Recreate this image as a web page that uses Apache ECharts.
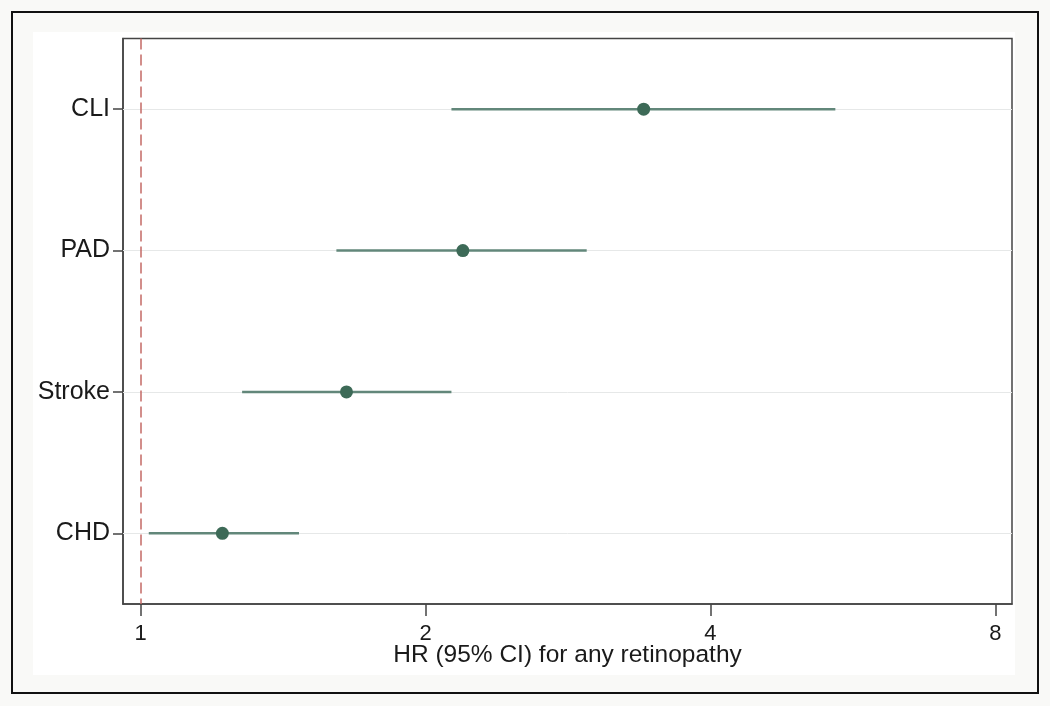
<!DOCTYPE html>
<html>
<head>
<meta charset="utf-8">
<script src="https://cdn.jsdelivr.net/npm/echarts@6/dist/echarts.min.js"></script>
<style>
  html, body { margin: 0; padding: 0; background: #f9f9f7; }
  #chart { width: 1050px; height: 706px; }
</style>
</head>
<body>
<div id="chart"></div>
<script>
// Data (top to bottom)
var categories = ['CLI', 'PAD', 'Stroke', 'CHD'];
var hr = [3.40, 2.19, 1.65, 1.22];
var ciLow = [2.13, 1.61, 1.28, 1.02];
var ciHigh = [5.42, 2.96, 2.13, 1.47];
var xTicks = [1, 2, 4, 8];
var refValue = 1;
var axisTitle = 'HR (95% CI) for any retinopathy';

var FONT = '"Liberation Sans", Arial, Helvetica, sans-serif';

var chart = echarts.init(document.getElementById('chart'), null, { renderer: 'canvas' });

var ciData = categories.map(function (c, i) { return [ciLow[i], c, ciHigh[i]]; });
var pointData = categories.map(function (c, i) { return [hr[i], c]; });

var gridLineData = categories.map(function (c) {
  return { yAxis: c, lineStyle: { color: '#e6e8e8', width: 1, type: 'solid' } };
});
gridLineData.push({ xAxis: refValue, lineStyle: { color: '#c46a66', width: 1.5, type: [11, 5] } });

var option = {
  backgroundColor: '#f9f9f7',
  animation: false,
  graphic: [
    { type: 'rect', z: -10, shape: { x: 33, y: 32, width: 982, height: 643 }, style: { fill: '#ffffff' }, silent: true },
    { type: 'rect', z: -9, shape: { x: 12, y: 12, width: 1026, height: 681 }, style: { fill: 'none', stroke: '#111', lineWidth: 2 }, silent: true }
  ],
  grid: {
    left: 123, right: 38, top: 38.5, bottom: 102,
    show: true, borderColor: '#444', borderWidth: 1.5, backgroundColor: '#ffffff'
  },
  xAxis: {
    type: 'log',
    logBase: 2,
    min: 0.958,
    max: 8.33,
    axisLine: { show: true, lineStyle: { color: '#444', width: 1.5 } },
    axisTick: { show: true, length: 12, lineStyle: { color: '#444', width: 1.5 }, customValues: xTicks },
    axisLabel: { customValues: xTicks, color: '#1a1a1a', fontSize: 22, fontFamily: FONT, margin: 19 },
    splitLine: { show: false },
    name: axisTitle,
    nameLocation: 'middle',
    nameGap: 39,
    nameMoveOverlap: false,
    nameTextStyle: { color: '#1a1a1a', fontSize: 24.5, fontFamily: FONT, verticalAlign: 'top' }
  },
  yAxis: {
    type: 'category',
    data: categories,
    inverse: true,
    axisLine: { show: true, lineStyle: { color: '#444', width: 1.5 } },
    axisTick: { show: true, alignWithLabel: true, length: 10, lineStyle: { color: '#444', width: 1.5 } },
    axisLabel: { color: '#1a1a1a', fontSize: 25, fontFamily: FONT, margin: 13 },
    splitLine: { show: false }
  },
  series: [
    {
      type: 'custom',
      name: 'CI',
      coordinateSystem: 'cartesian2d',
      data: ciData,
      z: 3,
      renderItem: function (params, api) {
        var yv = api.value(1);
        var p1 = api.coord([api.value(0), yv]);
        var p2 = api.coord([api.value(2), yv]);
        return {
          type: 'line',
          shape: { x1: p1[0], y1: p1[1], x2: p2[0], y2: p2[1] },
          style: { stroke: '#62877a', lineWidth: 2.5 }
        };
      }
    },
    {
      type: 'scatter',
      name: 'HR',
      data: pointData,
      symbol: 'circle',
      symbolSize: 13,
      itemStyle: { color: '#3d6a57', opacity: 1 },
      z: 5,
      markLine: {
        silent: true,
        symbol: 'none',
        label: { show: false },
        data: gridLineData,
        z: 1
      }
    }
  ]
};

chart.setOption(option);
</script>
</body>
</html>
